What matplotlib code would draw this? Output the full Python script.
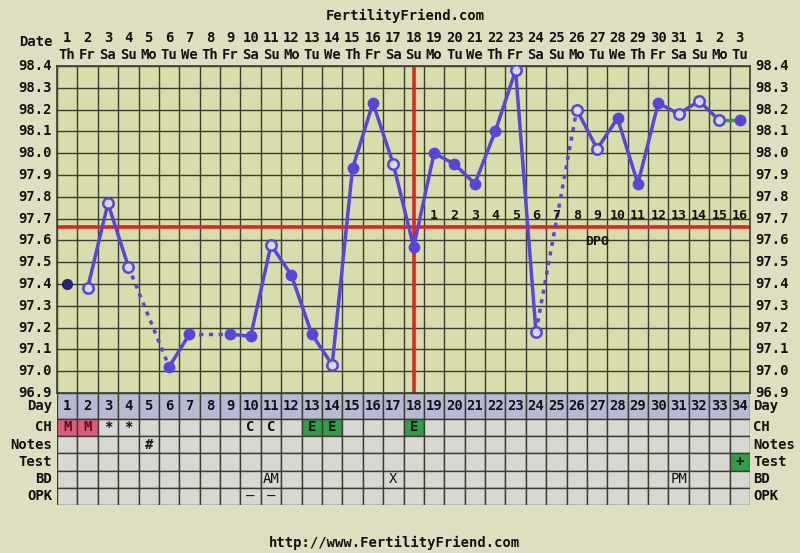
import numpy as np
import matplotlib
matplotlib.use('Agg')
import matplotlib.pyplot as plt
from matplotlib.transforms import blended_transform_factory as btf
from matplotlib.patches import Rectangle

# ---------------- data ----------------
cycle_days = list(range(1, 35))
date_nums = [str(d) for d in list(range(1, 32)) + [1, 2, 3]]
weekdays = ["Th", "Fr", "Sa", "Su", "Mo", "Tu", "We"] * 5
weekdays = weekdays[:34]
temps = [97.40, 97.38, 97.77, 97.48, np.nan, 97.02, 97.17, np.nan, 97.17, 97.16,
         97.58, 97.44, 97.17, 97.03, 97.93, 98.23, 97.95, 97.57, 98.00, 97.95,
         97.86, 98.10, 98.38, 97.18, np.nan, 98.20, 98.02, 98.16, 97.86, 98.23,
         98.18, 98.24, 98.15, 98.15]
open_days = [2, 3, 4, 11, 14, 17, 23, 24, 26, 27, 31, 32, 33]
discarded_days = [1]
green_link_days = [33]          # segment from this day to next drawn green
coverline = 97.66
ovulation_day = 18
dpo_labels = list(range(1, 17))  # days 19..34
ytick_vals = [round(96.9 + 0.1 * i, 1) for i in range(16)]

ch_marks = {1: "M", 2: "M", 3: "*", 4: "*", 10: "C", 11: "C", 13: "E", 14: "E", 18: "E"}
ch_colors = {1: "#dc5a7c", 2: "#dc5a7c", 13: "#2f9e48", 14: "#2f9e48", 18: "#2f9e48"}
notes_marks = {5: "#"}
test_marks = {34: "+"}
test_colors = {34: "#2f9e48"}
bd_marks = {11: "AM", 17: "X", 31: "PM"}
opk_marks = {10: "–", 11: "–"}
row_names = ["Day", "CH", "Notes", "Test", "BD", "OPK"]

# ---------------- style ----------------
W, H = 800, 553
BG = "#dedfc0"
CHART_BG = "#d9dcab"
GRID = "#3c3d30"
LINE = "#5846dc"
RED = "#d8281e"
FONT = "DejaVu Sans Mono"
FS = 9.5
plt.rcParams['font.family'] = [FONT, 'DejaVu Sans']

fig = plt.figure(figsize=(W / 100, H / 100), dpi=100, facecolor=BG)


def fy(p):
    return 1 - p / H


L, R, T, B = 57, 750, 66, 393
TB = 505
ax = fig.add_axes([L / W, fy(B), (R - L) / W, (B - T) / H])
ax.set_facecolor(CHART_BG)
ax.set_xlim(0.5, 34.5)
ax.set_ylim(96.9, 98.4)
ax.set_xticks([])
ax.set_yticks([])
for s in ax.spines.values():
    s.set_color(GRID)
    s.set_linewidth(1.2)
for x in np.arange(0.5, 35, 1):
    ax.axvline(x, color=GRID, lw=1, zorder=1)
for y in ytick_vals:
    ax.axhline(y, color=GRID, lw=1, zorder=1)

# coverline and ovulation line
ax.axhline(coverline, color=RED, lw=2.6, zorder=2)
ax.axvline(ovulation_day, color=RED, lw=2.6, zorder=2)

# temperature line segments
t = dict(zip(cycle_days, temps))
valid = [d for d in cycle_days if not np.isnan(t[d]) and d not in discarded_days]
for a, b in zip(valid[:-1], valid[1:]):
    if a in green_link_days:
        ax.plot([a, b], [t[a], t[b]], color="#2f9e48", lw=2.5, zorder=3)
    elif b - a == 1:
        ax.plot([a, b], [t[a], t[b]], color=LINE, lw=2.5, zorder=3)
    else:
        ax.plot([a, b], [t[a], t[b]], color=LINE, lw=2.5, ls=(0, (1.2, 1.6)), zorder=3)

for d in cycle_days:
    if np.isnan(t[d]):
        continue
    if d in discarded_days:
        ax.plot(d, t[d], 'o', ms=7, color="#28207a", mec="#28207a", zorder=4)
    elif d in open_days:
        ax.plot(d, t[d], 'o', ms=7.5, mfc="#d8d8f0", mec=LINE, mew=1.8, zorder=4)
    else:
        ax.plot(d, t[d], 'o', ms=7.5, color=LINE, zorder=4)

# DPO labels
for i, lab in enumerate(dpo_labels):
    ax.text(ovulation_day + 1 + i, coverline + 0.055, str(lab), ha='center', va='center',
            fontsize=FS, fontweight='bold', color="#111111", zorder=5)
ax.text(27, coverline - 0.065, "DPO", ha='center', va='center', fontsize=FS,
        fontweight='bold', color="#111111", zorder=5)

# y tick labels both sides
tl = btf(fig.transFigure, ax.transData)
for v in ytick_vals:
    ax.text(52 / W, v, f"{v:.1f}", transform=tl, ha='right', va='center',
            fontsize=FS + 0.5, fontweight='bold', color="#111111")
    ax.text(755 / W, v, f"{v:.1f}", transform=tl, ha='left', va='center',
            fontsize=FS + 0.5, fontweight='bold', color="#111111")

# date header
th = btf(ax.transData, fig.transFigure)
for d, dn, wd in zip(cycle_days, date_nums, weekdays):
    ax.text(d, fy(38), dn, transform=th, ha='center', va='center', fontsize=FS + 0.5,
            fontweight='bold', color="#111111")
    ax.text(d, fy(55), wd, transform=th, ha='center', va='center', fontsize=FS + 0.5,
            fontweight='bold', color="#111111")
fig.text(53 / W, fy(42), "Date", ha='right', va='center', fontsize=FS + 0.5,
         fontweight='bold', color="#111111")
fig.text(405 / W, fy(16), "FertilityFriend.com", ha='center', va='center',
         fontsize=FS + 0.5, fontweight='bold', color="#111111")
fig.text(395 / W, fy(543), "http://www.FertilityFriend.com", ha='center', va='center',
         fontsize=FS + 0.5, fontweight='bold', color="#111111")

# ---------------- bottom table ----------------
tax = fig.add_axes([L / W, fy(TB), (R - L) / W, (TB - B) / H])
tax.set_xlim(0.5, 34.5)
tax.set_ylim(0, 6.5)
tax.axis('off')
row_y = {"OPK": 0, "BD": 1, "Test": 2, "Notes": 3, "CH": 4, "Day": 5}
row_h = {"OPK": 1, "BD": 1, "Test": 1, "Notes": 1, "CH": 1, "Day": 1.5}
row_data = {"CH": (ch_marks, ch_colors), "Notes": (notes_marks, {}),
            "Test": (test_marks, test_colors), "BD": (bd_marks, {}), "OPK": (opk_marks, {})}
for name in row_names:
    y0, h = row_y[name], row_h[name]
    for d in cycle_days:
        if name == "Day":
            fc = "#b7bad2"
            txt = str(d)
        else:
            marks, cols = row_data[name]
            fc = cols.get(d, "#d8d8d2")
            txt = marks.get(d, "")
        tax.add_patch(Rectangle((d - 0.5, y0), 1, h, facecolor=fc, edgecolor=GRID, lw=1))
        if txt:
            col = "#111111"
            if name == "CH" and d in (1, 2):
                col = "#5a1020"
            tax.text(d, y0 + h / 2, txt, ha='center', va='center', fontsize=FS + 0.5,
                     fontweight='bold' if name in ("Day", "CH", "Test", "Notes") else 'normal',
                     color=col)
    tt = btf(fig.transFigure, tax.transData)
    tax.text(52 / W, y0 + h / 2, name, transform=tt, ha='right', va='center',
             fontsize=FS + 0.5, fontweight='bold', color="#111111")
    tax.text(753 / W, y0 + h / 2, name, transform=tt, ha='left', va='center',
             fontsize=FS + 0.5, fontweight='bold', color="#111111")

fig.savefig("out.png", dpi=100, facecolor=BG)
